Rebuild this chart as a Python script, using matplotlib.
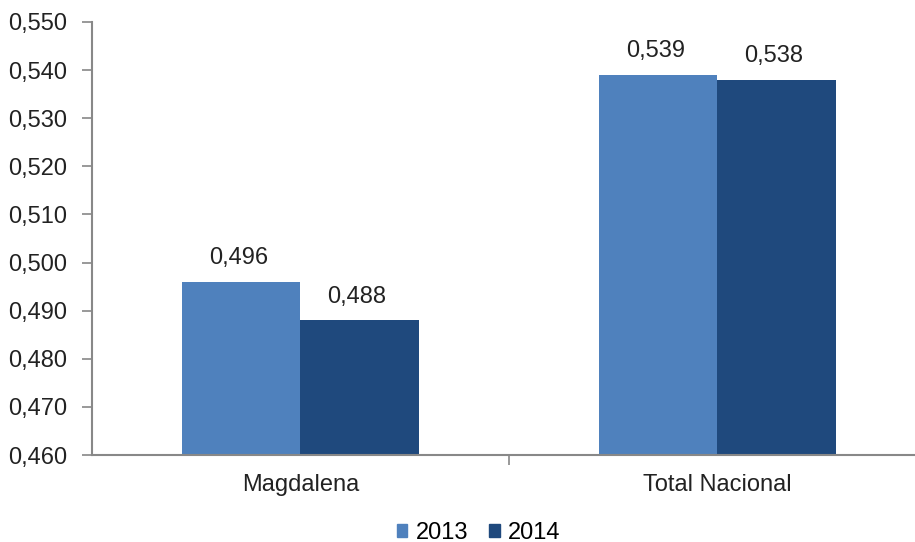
import numpy as np
import matplotlib.pyplot as plt
from matplotlib.patches import Patch

plt.rcParams['font.family'] = ['Liberation Sans', 'DejaVu Sans']

categories = ['Magdalena', 'Total Nacional']
years = ['2013', '2014']
v2013 = [0.496, 0.539]
v2014 = [0.488, 0.538]
yticks = [0.46, 0.47, 0.48, 0.49, 0.50, 0.51, 0.52, 0.53, 0.54, 0.55]

c2013 = '#4F81BD'
c2014 = '#1F497D'
grey = '#888888'
fs = 17

fig = plt.figure(figsize=(9.15, 5.42), dpi=100)
ax = fig.add_axes([0.1005, 0.1605, 0.8995, 0.799])

x = np.arange(len(categories))
w = 0.284
ax.bar(x - w/2, v2013, w, color=c2013, zorder=2)
ax.bar(x + w/2, v2014, w, color=c2014, zorder=2)

def fmt(v):
    return f'{v:.3f}'.replace('.', ',')

for xi, a, b in zip(x, v2013, v2014):
    ax.annotate(fmt(a), (xi - w/2, a), xytext=(-2, 9), textcoords='offset points',
                ha='center', va='bottom', fontsize=fs, color='#222222')
    ax.annotate(fmt(b), (xi + w/2, b), xytext=(-2, 9), textcoords='offset points',
                ha='center', va='bottom', fontsize=fs, color='#222222')

ax.set_ylim(0.46, 0.55)
ax.set_xlim(-0.5, 1.474)
ax.set_yticks(yticks)
ax.set_yticklabels([fmt(t) for t in yticks], fontsize=fs, color='#222222')
ax.tick_params(axis='y', direction='out', length=7, width=1.2, color=grey, pad=11)

ax.set_xticks([0.5])
ax.set_xticklabels([''])
ax.tick_params(axis='x', direction='out', length=7, width=1.2, color=grey)
for xi, name in zip(x, categories):
    ax.text(xi, -0.045, name, transform=ax.get_xaxis_transform(), ha='center', va='top',
            fontsize=fs, color='#222222')

for s in ['top', 'right']:
    ax.spines[s].set_visible(False)
for s in ['left', 'bottom']:
    ax.spines[s].set_color(grey)
    ax.spines[s].set_linewidth(1.5)

handles = [Patch(color=c2013, label=years[0]), Patch(color=c2014, label=years[1])]
fig.legend(handles=handles, loc='center', bbox_to_anchor=(0.523, 0.017), ncol=2,
           frameon=False, fontsize=fs, handlelength=0.45, handleheight=0.45,
           handletextpad=0.35, columnspacing=0.9, borderaxespad=0)

fig.savefig('out.png', dpi=100)
